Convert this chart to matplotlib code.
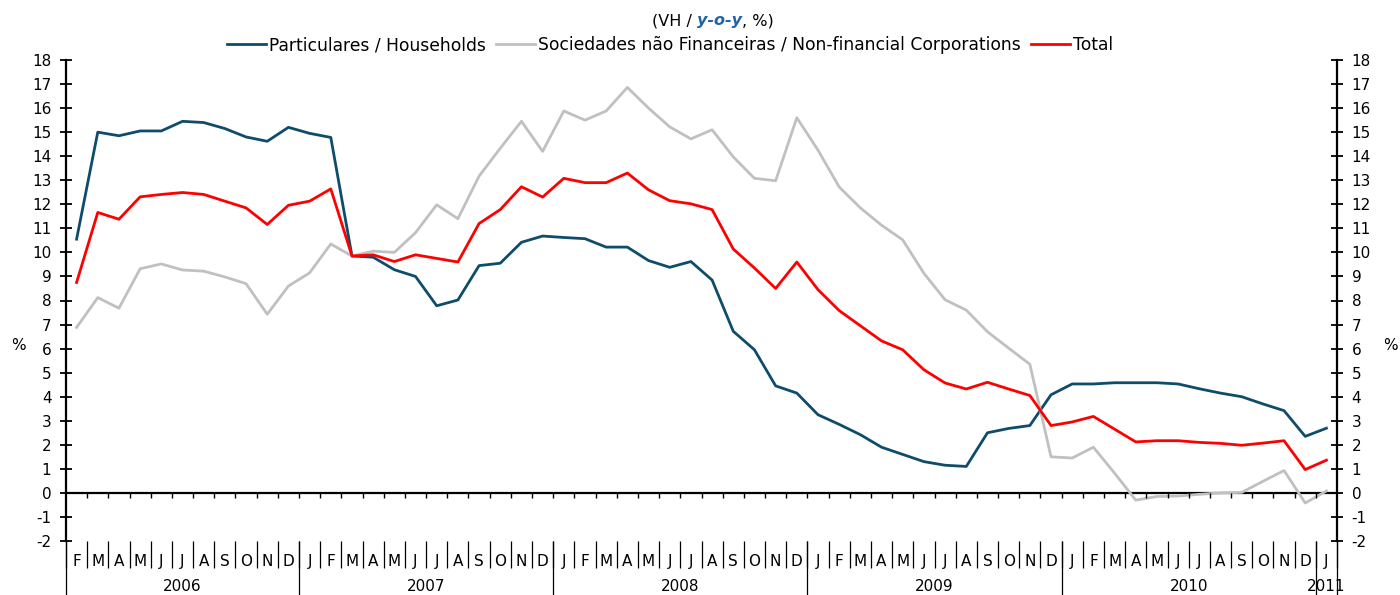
import numpy as np
import matplotlib
matplotlib.use("Agg")
import matplotlib.pyplot as plt
from matplotlib.offsetbox import TextArea, HPacker, AnnotationBbox

plt.rcParams['font.family'] = ['DejaVu Sans']
plt.rcParams['axes.unicode_minus'] = False

# monthly y-o-y rates, Feb 2006 .. Jan 2011
households = [10.55, 15.0, 14.85, 15.05, 15.05, 15.45, 15.4, 15.15, 14.8, 14.62, 15.2,
              14.95, 14.78, 9.85, 9.8, 9.28, 9.0, 7.78, 8.02, 9.45, 9.55, 10.42, 10.68,
              10.62, 10.57, 10.22, 10.22, 9.66, 9.38, 9.62, 8.85, 6.72, 5.95, 4.45, 4.15,
              3.25, 2.85, 2.42, 1.9, 1.6, 1.3, 1.15, 1.1, 2.5, 2.68, 2.8, 4.08,
              4.53, 4.53, 4.58, 4.58, 4.58, 4.53, 4.33, 4.15, 4.0, 3.7, 3.42, 2.35,
              2.69]
nonfin = [6.88, 8.12, 7.68, 9.32, 9.52, 9.27, 9.22, 8.98, 8.7, 7.43, 8.6,
          9.15, 10.35, 9.85, 10.05, 10.0, 10.82, 11.98, 11.4, 13.17, 14.33, 15.45, 14.2,
          15.88, 15.5, 15.88, 16.86, 16.0, 15.22, 14.72, 15.1, 13.97, 13.08, 12.98, 15.6,
          14.25, 12.72, 11.85, 11.13, 10.52, 9.13, 8.03, 7.6, 6.7, 6.02, 5.35, 1.5,
          1.45, 1.9, 0.82, -0.3, -0.15, -0.13, -0.06, 0.0, 0.02, 0.48, 0.93, -0.42,
          0.08]
total = [8.75, 11.66, 11.38, 12.31, 12.41, 12.49, 12.41, 12.13, 11.85, 11.16, 11.96,
         12.13, 12.64, 9.85, 9.9, 9.62, 9.9, 9.75, 9.6, 11.2, 11.78, 12.73, 12.3,
         13.08, 12.9, 12.9, 13.3, 12.6, 12.15, 12.02, 11.78, 10.14, 9.35, 8.5, 9.6,
         8.45, 7.58, 6.95, 6.32, 5.95, 5.12, 4.57, 4.32, 4.6, 4.32, 4.05, 2.8,
         2.95, 3.18, 2.65, 2.12, 2.17, 2.17, 2.1, 2.06, 1.98, 2.07, 2.17, 0.97,
         1.36]

month_initials = list("JFMAMJJASOND")
years = ["2006", "2007", "2008", "2009", "2010", "2011"]
months_in_year = [11, 12, 12, 12, 12, 1]
first_month = 1  # February

labels = [month_initials[(first_month + i) % 12] for i in range(len(total))]
x = np.arange(len(total))

fig = plt.figure(figsize=(14, 5.95), dpi=100)
ax = fig.add_axes([66/1400, 1-541/595, (1337-66)/1400, (541-60)/595])

ax.plot(x, households, color='#0F4C6C', lw=2.0, label='Particulares / Households')
ax.plot(x, nonfin, color='#C0C0C0', lw=2.0, label='Sociedades não Financeiras / Non-financial Corporations')
ax.plot(x, total, color='#FF0000', lw=2.0, label='Total')

ax.set_xlim(-0.5, len(total) - 0.5)
ax.set_ylim(-2, 18)
ax.set_yticks(range(-2, 19))
ax.set_xticks([])
ax.tick_params(axis='y', left=True, right=True, labelleft=True, labelright=True,
               direction='inout', length=9, width=1.3, labelsize=11, pad=6)
for s in ['top', 'bottom']:
    ax.spines[s].set_visible(False)
for s in ['left', 'right']:
    ax.spines[s].set_linewidth(1.6)
    ax.spines[s].set_bounds(-2, 18)

# zero line with small month ticks
ax.axhline(0, color='black', lw=1.6, zorder=1)
bounds = np.arange(len(total) + 1) - 0.5
ax.vlines(bounds[1:-1], -0.2, 0, color='black', lw=1.0)

# month labels and separators below the plot
tr = ax.get_xaxis_transform()
for i, lab in enumerate(labels):
    ax.text(i, -0.042, lab, transform=tr, ha='center', va='center', fontsize=11, clip_on=False)
ax.vlines(bounds, -0.056, 0, transform=tr, color='black', lw=0.9, clip_on=False)

# year separators and labels
edges = np.concatenate([[0], np.cumsum(months_in_year)]) - 0.5
ax.vlines(edges, -0.115, 0, transform=tr, color='black', lw=0.9, clip_on=False)
for k, yr in enumerate(years):
    ax.text((edges[k] + edges[k+1]) / 2, -0.094, yr, transform=tr,
            ha='center', va='center', fontsize=11, clip_on=False)

fig.text(18/1400, 1-345/595, '%', ha='center', va='center', fontsize=11)
fig.text(1390/1400, 1-345/595, '%', ha='center', va='center', fontsize=11)

# subtitle
parts = [TextArea('(VH / ', textprops=dict(fontsize=11.5, color='black')),
         TextArea('y-o-y', textprops=dict(fontsize=11.5, color='#1F63A8', fontweight='bold', style='italic')),
         TextArea(', %)', textprops=dict(fontsize=11.5, color='black'))]
box = HPacker(children=parts, align='baseline', pad=0, sep=0)
fig.add_artist(AnnotationBbox(box, (713/1400, 1-21/595), xycoords='figure fraction',
                              frameon=False, box_alignment=(0.5, 0.5)))

fig.legend(loc='center', bbox_to_anchor=(670/1400, 1-45/595), ncol=3, frameon=False,
           fontsize=12.3, handlelength=2.3, handletextpad=0.2, columnspacing=0.55)

fig.savefig('out.png', dpi=100)
